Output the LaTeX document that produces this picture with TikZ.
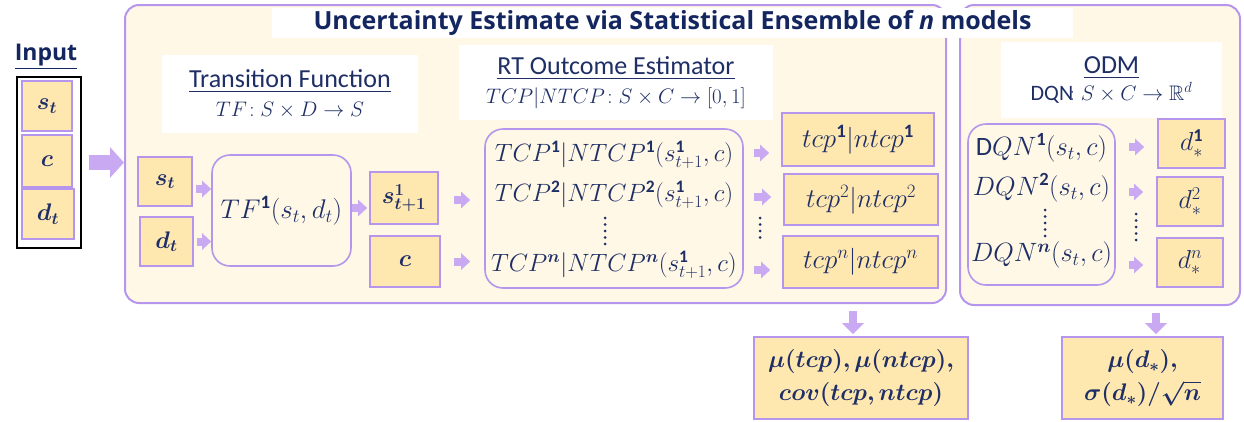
\RequirePackage{fix-cm}
\documentclass[tikz,border=0pt]{standalone}
\usepackage{fontspec}
\usepackage{amsmath,amssymb,bm}
\setmainfont{Carlito}
\newfontfamily\headfont{Open Sans}
\usetikzlibrary{arrows.meta,calc}
\definecolor{navy}{HTML}{1F2F66}
\definecolor{titlenavy}{HTML}{142660}
\definecolor{cream}{HTML}{FFF8E6}
\definecolor{boxfill}{HTML}{FFE8B0}
\definecolor{lav}{HTML}{B596EC}
\definecolor{arrowlav}{HTML}{C9A9F2}
\tikzset{
  panel/.style={draw=lav, line width=2pt, fill=cream, rounded corners=14pt, inner sep=0pt},
  group/.style={draw=lav, line width=1.6pt, fill=cream, rounded corners=18pt, inner sep=0pt, text=navy},
  valbox/.style={draw=lav, line width=1.6pt, fill=boxfill, inner sep=0pt, text=navy, font=\fontsize{24}{28}\selectfont},
  headbox/.style={fill=white, inner sep=0pt, align=center, text=navy, font=\fontsize{26}{30}\selectfont},
  mathline/.style={inner sep=0pt, text=navy, font=\fontsize{25}{28}\selectfont},
  barrow/.style={draw=arrowlav, line width=8pt, -{Triangle[length=9pt,width=16pt]}},
  bigarrow/.style={draw=arrowlav, line width=15pt, -{Triangle[length=14pt,width=30pt]}},
  downarrow/.style={draw=arrowlav, line width=8pt, -{Triangle[length=11pt,width=21pt]}},
  ellip/.style={draw=navy, line width=3pt, line cap=round, dash pattern=on 0pt off 6.5pt}
}
% smaller type for the formulas under each heading
\newcommand{\hmath}[1]{{\fontsize{21}{24}\selectfont$#1$}}
\begin{document}
\begin{tikzpicture}[x=1pt,y=-1pt]
\useasboundingbox (0,0) rectangle (1244,421);

% ---- input column ----
\node[text=titlenavy, font=\headfont\bfseries\fontsize{23}{28}\selectfont, inner sep=0pt] (inlabel) at (46,57) {\underline{Input}};
\node[draw=black, line width=1.8pt, fill=white, minimum width=64, minimum height=171, inner sep=0pt] (inbox) at (49,162.5) {};
\node[valbox, minimum width=50, minimum height=50] (ins) at (47,106) {$\bm{s_t}$};
\node[valbox, minimum width=50, minimum height=52] (inc) at (47,161) {$\bm{c}$};
\node[valbox, minimum width=52, minimum height=50] (ind) at (48,214) {$\bm{d_t}$};

% ---- panels ----
\node[panel, minimum width=821, minimum height=298] (bigA) at (535.5,154) {};
\node[panel, minimum width=280, minimum height=300] (bigB) at (1100,155) {};
\node[fill=white, minimum width=801, minimum height=30, inner sep=0pt, text=titlenavy,
      font=\headfont\bfseries\fontsize{25}{28}\selectfont] (title) at (672.5,23)
      {Uncertainty Estimate via Statistical Ensemble of \textit{n} models};

\draw[bigarrow, shorten <=7pt] (inbox.east) -- (inbox.east -| bigA.west);

% ---- headings ----
\node[headbox, minimum width=256, minimum height=78] (tfhead) at (290,94)
  {\underline{Transition Function}\\[-1pt] \hmath{TF\!: S\times D\rightarrow S}};
\node[headbox, minimum width=314, minimum height=75] (rthead) at (616,82.5)
  {\underline{RT Outcome Estimator}\\[-1pt] \hmath{TCP|NTCP\!: S\times C\rightarrow [0,1]}};
\node[headbox, minimum width=221, minimum height=76] (odmhead) at (1111.5,80)
  {\underline{ODM}\\[-3pt] {\fontsize{22}{24}\selectfont DQN}\hmath{\!: S\times C\rightarrow \mathbb{R}^{d}}};

% ---- transition function ----
\node[valbox, minimum width=54, minimum height=49] (st) at (165,181.5) {$\bm{s_t}$};
\node[valbox, minimum width=53, minimum height=49] (dt) at (166.5,241.5) {$\bm{d_t}$};
\node[group, minimum width=139, minimum height=111, font=\fontsize{27}{30}\selectfont] (tf) at (281.5,210.5)
  {$TF^{\mathbf{1}}(s_t,d_t)$};
\node[valbox, minimum width=68, minimum height=52] (snext) at (404,198) {$\bm{s^{1}_{t+1}}$};
\node[valbox, minimum width=70, minimum height=51] (cc) at (405,261.5) {$\bm{c}$};

\draw[barrow, shorten <=3pt] ([yshift=-7.5pt]st.east) -- ([yshift=-7.5pt]st.east -| tf.west);
\draw[barrow, shorten <=3pt] (dt.east) -- (dt.east -| tf.west);
\draw[barrow, shorten >=2pt] ([yshift=2.5pt]tf.east) -- ([yshift=2.5pt]tf.east -| snext.west);

% ---- RT outcome estimator ----
\node[group, minimum width=258, minimum height=159] (tcpgrp) at (614,208.5) {};
\node[mathline] (l1) at (614,155) {$TCP^{\mathbf{1}}|NTCP^{\mathbf{1}}(s^{\mathbf{1}}_{t+1},c)$};
\node[mathline] (l2) at (614,195) {$TCP^{\mathbf{2}}|NTCP^{\mathbf{2}}(s^{\mathbf{1}}_{t+1},c)$};
\node[mathline] (ln) at (614,265) {$TCP^{\boldsymbol{n}}|NTCP^{\boldsymbol{n}}(s^{\mathbf{1}}_{t+1},c)$};
\draw[ellip] (605,218) -- (605,245);

\draw[barrow, shorten <=15pt, shorten >=14pt] ([yshift=-2pt]snext.east) -- ([yshift=-2pt]snext.east -| tcpgrp.west);
\draw[barrow, shorten <=13pt, shorten >=14pt] (cc.east) -- (cc.east -| tcpgrp.west);

\node[valbox, minimum width=152, minimum height=53, font=\fontsize{27}{30}\selectfont] (tcp1) at (858,139.5) {$tcp^{\mathbf{1}}|ntcp^{\mathbf{1}}$};
\node[valbox, minimum width=154, minimum height=51, font=\fontsize{27}{30}\selectfont] (tcp2) at (861,199.5) {$tcp^{2}|ntcp^{2}$};
\node[valbox, minimum width=155, minimum height=52, font=\fontsize{27}{30}\selectfont] (tcpn) at (860.5,262) {$tcp^{n}|ntcp^{n}$};

\draw[barrow, shorten <=10pt, shorten >=12pt] ([yshift=2pt]l1 -| tcpgrp.east) -- ([yshift=2pt]l1 -| tcp1.west);
\draw[barrow, shorten <=10pt, shorten >=12pt] ([yshift=-2pt]l2 -| tcpgrp.east) -- ([yshift=-2pt]l2 -| tcp2.west);
\draw[barrow, shorten <=10pt, shorten >=12pt] ([yshift=-5pt]ln -| tcpgrp.east) -- ([yshift=-5pt]ln -| tcpn.west);
\draw[ellip] (760,218) -- (760,244);

% ---- ODM ----
\node[group, minimum width=147, minimum height=161] (dqngrp) at (1041.5,204.5) {};
\node[mathline, font=\fontsize{26.5}{28}\selectfont] (m1) at (1041.5,148) {$\mathrm{D}QN^{\mathbf{1}}(s_t,c)$};
\node[mathline, font=\fontsize{26.5}{28}\selectfont] (m2) at (1041.5,188) {$DQN^{\mathbf{2}}(s_t,c)$};
\node[mathline, font=\fontsize{26.5}{28}\selectfont] (mn) at (1041.5,255) {$DQN^{\boldsymbol{n}}(s_t,c)$};
\draw[ellip] (1045,210) -- (1045,236);

\node[valbox, minimum width=67, minimum height=49, font=\fontsize{26}{28}\selectfont] (d1) at (1191.5,143.5) {$d_{*}^{\mathbf{1}}$};
\node[valbox, minimum width=66, minimum height=49, font=\fontsize{26}{28}\selectfont] (d2) at (1190,201.5) {$d_{*}^{2}$};
\node[valbox, minimum width=66, minimum height=49, font=\fontsize{26}{28}\selectfont] (dn) at (1190,262.5) {$d_{*}^{n}$};

\draw[barrow, shorten <=13pt, shorten >=13pt] ([yshift=-3.5pt]d1.west -| dqngrp.east) -- ([yshift=-3.5pt]d1.west);
\draw[barrow, shorten <=13pt, shorten >=13pt] ([yshift=9.5pt]d2.west -| dqngrp.east) -- ([yshift=9.5pt]d2.west);
\draw[barrow, shorten <=13pt, shorten >=13pt] ([yshift=-2.5pt]dn.west -| dqngrp.east) -- ([yshift=-2.5pt]dn.west);
\draw[ellip] (1136,214) -- (1136,240);

% ---- ensemble statistics ----
\node[valbox, minimum width=214, minimum height=82, align=center] (resA) at (861,378)
  {$\bm{\mu(tcp),\mu(ntcp),}$\\[5pt]$\bm{cov(tcp,ntcp)}$};
\node[valbox, minimum width=161, minimum height=82, align=center] (resB) at (1142.5,378)
  {$\bm{\mu(d_{*}),}$\\[5pt]$\bm{\sigma(d_{*})/\sqrt{n}}$};

\draw[downarrow, shorten <=7pt, shorten >=2pt] ($(resA.north |- bigA.south)+(-8,0)$) -- ($(resA.north)+(-8,0)$);
\draw[downarrow, shorten <=7pt, shorten >=2pt] ($(resB.north |- bigB.south)+(13.5,0)$) -- ($(resB.north)+(13.5,0)$);
\end{tikzpicture}
\end{document}
